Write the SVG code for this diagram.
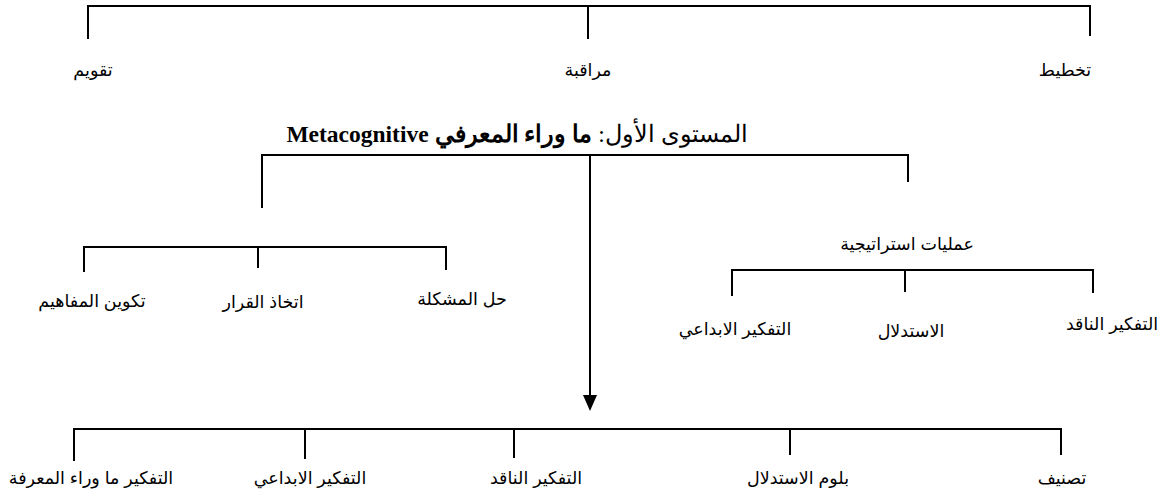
<svg xmlns="http://www.w3.org/2000/svg" width="1170" height="494" viewBox="0 0 1170 494">
<style>
.ln{stroke:#000;stroke-width:2;fill:none}
.lb{font-family:"Liberation Sans","DejaVu Sans",sans-serif;font-size:17.5px;fill:#000;text-anchor:middle;direction:rtl}
.tt{font-family:"Liberation Serif","DejaVu Serif",serif;font-size:23.5px;fill:#000;text-anchor:middle;direction:rtl}
</style>
<rect width="1170" height="494" fill="#fff"/>
<g id="connectors">
<path class="ln" d="M88,39 V6 H1090 V36 M588,6 V39"/>
<path class="ln" d="M262,208 V155 H908 V182"/>
<path class="ln" d="M590,155 V398"/>
<path d="M583,395 L597,395 L590,411 Z" fill="#000"/>
<path class="ln" d="M84,272 V247 H446 V270 M258,247 V268"/>
<path class="ln" d="M732,296 V270 H1093 V293 M905,270 V292"/>
<path class="ln" d="M74,461 V429 H1061 V455 M305,429 V459 M514,429 V458 M790,429 V455"/>
</g>
<g id="n-tqwim"><text class="lb" x="93" y="76">تقويم</text></g>
<g id="n-muraqaba"><text class="lb" x="588" y="76">مراقبة</text></g>
<g id="n-takhtit"><text class="lb" x="1065" y="76">تخطيط</text></g>
<g id="n-title"><text class="tt" x="517" y="142">المستوى الأول: <tspan font-weight="bold">ما وراء المعرفي Metacognitive</tspan></text></g>
<g id="n-mafahim"><text class="lb" x="92" y="307">تكوين المفاهيم</text></g>
<g id="n-qarar"><text class="lb" x="263" y="308">اتخاذ القرار</text></g>
<g id="n-mushkila"><text class="lb" x="462" y="305">حل المشكلة</text></g>
<g id="n-amaliyat"><text class="lb" x="907" y="250">عمليات استراتيجية</text></g>
<g id="n-ibdai1"><text class="lb" x="735" y="335">التفكير الابداعي</text></g>
<g id="n-istidlal1"><text class="lb" x="911" y="337">الاستدلال</text></g>
<g id="n-naqid1"><text class="lb" x="1112" y="330">التفكير الناقد</text></g>
<g id="n-mawara"><text class="lb" x="91" y="484">التفكير ما وراء المعرفة</text></g>
<g id="n-ibdai2"><text class="lb" x="310" y="484">التفكير الابداعي</text></g>
<g id="n-naqid2"><text class="lb" x="536" y="484">التفكير الناقد</text></g>
<g id="n-bloom"><text class="lb" x="798" y="484">بلوم الاستدلال</text></g>
<g id="n-tasnif"><text class="lb" x="1062" y="484">تصنيف</text></g>
</svg>
